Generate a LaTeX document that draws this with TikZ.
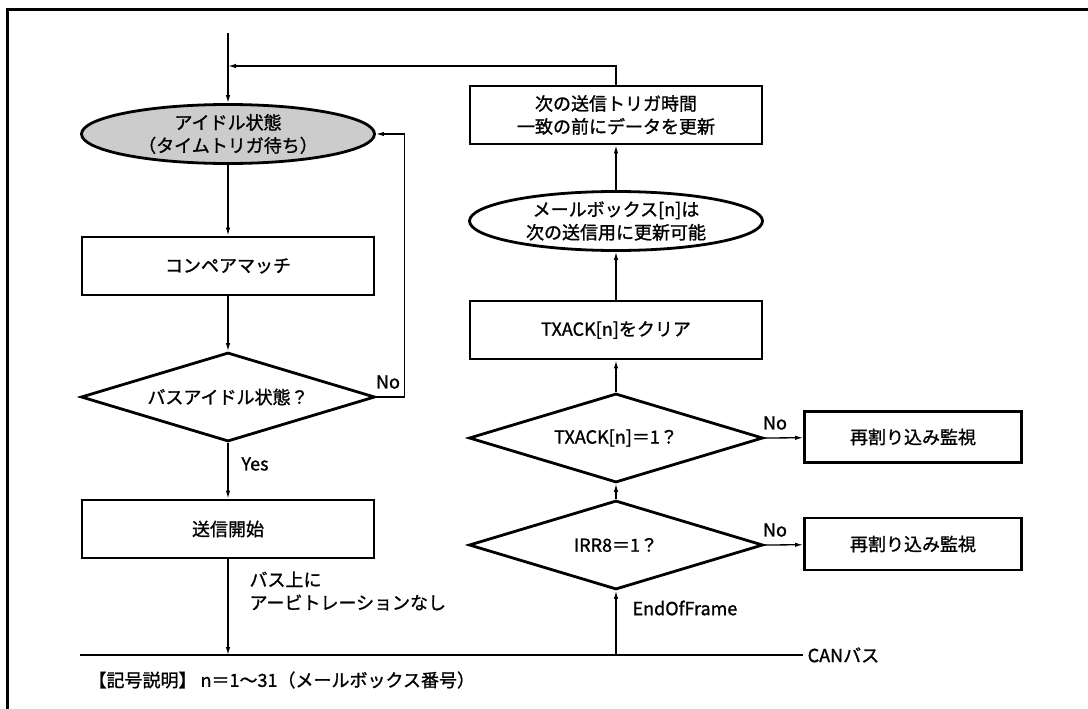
\documentclass[tikz,border=0pt]{standalone}
\usepackage{fontspec}
\setmainfont{Noto Sans CJK JP}[RawFeature={embolden=1.2}]
\usetikzlibrary{shapes.geometric,arrows.meta}

\begin{document}
\begin{tikzpicture}[x=1pt,y=-1pt,font=\fontsize{18}{23}\selectfont,
  box/.style={draw,line width=2.8pt,minimum width=292pt,minimum height=58pt,inner sep=0pt,align=center},
  oval/.style={draw,ellipse,line width=2.8pt,minimum width=293pt,minimum height=59pt,inner sep=0pt,align=center},
  test/.style={draw,diamond,aspect=3.3,line width=2.8pt,minimum width=294pt,minimum height=89pt,inner sep=0pt},
  arr/.style={-{Latex[length=8pt,width=4.5pt]},line width=1.3pt}]
  \useasboundingbox (0,0) rectangle (1088,709);
  \draw[line width=3pt] (7,709) |- (1088,10);

  % left column
  \node[oval,fill=black!20] (idle) at (228,134) {アイドル状態\\（タイムトリガ待ち）};
  \node[box] (cmp) at (228,266) {コンペアマッチ};
  \node[test] (busq) at (228,397) {バスアイドル状態？};
  \node[box] (start) at (228,529) {送信開始};

  % right column
  \node[box] (upd) at (616,115) {次の送信トリガ時間\\一致の前にデータを更新};
  \node[oval] (avail) at (616,221) {メールボックス[n]は\\次の送信用に更新可能};
  \node[box] (clr) at (616,330) {TXACK[n]をクリア};
  \node[test] (txq) at (616,438) {TXACK[n]＝1？};
  \node[test] (irrq) at (616,545) {IRR8＝1？};
  \node[box,minimum width=217pt,minimum height=51pt] (mon1) at (913,437) {再割り込み監視};
  \node[box,minimum width=217pt,minimum height=52pt] (mon2) at (913,544) {再割り込み監視};

  % CAN bus
  \coordinate (busL) at (80,655);
  \coordinate (busR) at (803,655);
  \draw[line width=2.8pt] (busL) -- (busR) node[right=0pt] (can) {CANバス};

  \coordinate (entry) at (228,33);
  \coordinate (join) at (228,66);
  \draw[arr] (entry) -- (idle);
  \draw[arr] (upd) |- (join);
  \foreach \a/\b in {idle/cmp,cmp/busq,busq/start}
    \draw[arr] (\a) -- (\b);
  \draw[arr] (start) -- (start |- busL);
  \draw[arr] (busq.east) -- ++(28,0) |- (idle.east);
  \draw[arr] (busL -| irrq) -- (irrq);
  \foreach \a/\b in {irrq/txq,txq/clr,clr/avail,avail/upd}
    \draw[arr] (\a) -- (\b);
  \draw[arr] (txq.east) -- (mon1);
  \draw[arr] (irrq.east) -- (mon2);

  \node (no1) at (388,382) {No};
  \node (yes) at (255,464) {Yes};
  \node[anchor=west,align=left] (arb) at (246,591) {バス上に\\アービトレーションなし};
  \node (no2) at (775,423) {No};
  \node (no3) at (775,530) {No};
  \node[anchor=west] (eof) at (629,608) {EndOfFrame};
  \node[anchor=west] (legend) at (85,680) {【記号説明】 n＝1～31（メールボックス番号）};
\end{tikzpicture}
\end{document}
